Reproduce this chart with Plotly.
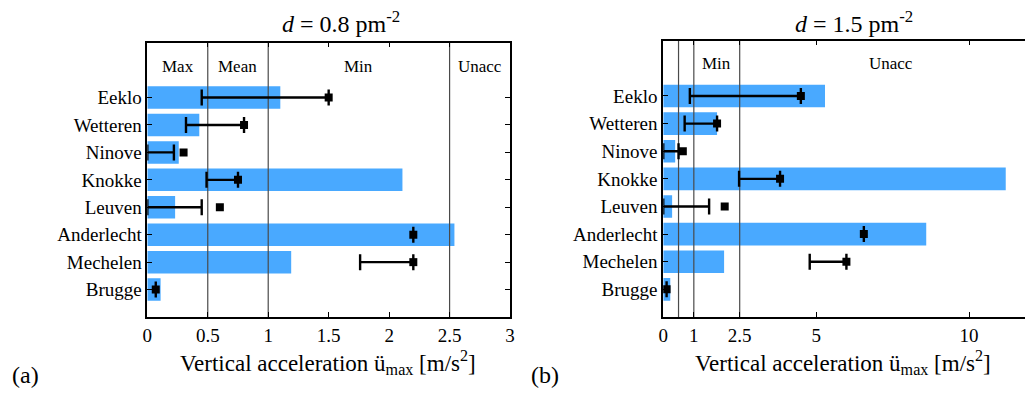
import plotly.graph_objects as go

cities = ["Eeklo", "Wetteren", "Ninove", "Knokke", "Leuven", "Anderlecht", "Mechelen", "Brugge"]
ypos = [8, 7, 6, 5, 4, 3, 2, 1]

# panel (a): d = 0.8 pm^-2
a_bar = [1.10, 0.43, 0.26, 2.11, 0.23, 2.54, 1.19, 0.11]
a_lo = [0.45, 0.32, 0.00, 0.49, 0.00, 2.20, 1.76, 0.07]
a_hi = [1.50, 0.80, 0.22, 0.75, 0.45, 2.20, 2.20, 0.07]
a_mark = [1.50, 0.80, 0.30, 0.75, 0.60, 2.20, 2.20, 0.07]
a_limits = [0.5, 1.0, 2.5]
a_bands = ["Max", "Mean", "Min", "Unacc"]
a_band_x = [0.25, 0.75, 1.75, 2.75]
a_ticks = [0, 0.5, 1, 1.5, 2, 2.5, 3]

# panel (b): d = 1.5 pm^-2
b_bar = [5.29, 1.76, 0.39, 11.2, 0.29, 8.60, 1.99, 0.23]
b_lo = [0.87, 0.70, 0.00, 2.48, 0.00, 6.56, 4.79, 0.11]
b_hi = [4.50, 1.76, 0.50, 3.82, 1.50, 6.56, 5.99, 0.11]
b_mark = [4.50, 1.76, 0.64, 3.82, 2.01, 6.56, 5.99, 0.11]
b_limits = [0.5, 1.0, 2.5]
b_bands = ["Min", "Unacc"]
b_band_x = [1.75, 7.45]
b_ticks = [0, 1, 2.5, 5, 10]

W, H = 1030, 396
FONT = "Liberation Serif"
BAR = "#49A9FF"

fig = go.Figure()

def add_panel(bar, lo, hi, mark, limits, xa, ya):
    fig.add_trace(go.Bar(x=bar, y=ypos, orientation="h", width=0.82,
                         marker=dict(color=BAR, line=dict(width=0)),
                         xaxis=xa, yaxis=ya, showlegend=False))
    for v in limits:
        fig.add_trace(go.Scatter(x=[v, v], y=[0, 10], mode="lines",
                                 line=dict(color="#4a4a4a", width=1.2),
                                 xaxis=xa, yaxis=ya, showlegend=False, hoverinfo="skip"))
    fig.add_trace(go.Scatter(x=hi, y=ypos, mode="markers",
                             marker=dict(size=1, color="rgba(0,0,0,0)"),
                             error_x=dict(type="data", symmetric=False,
                                          array=[0] * len(hi),
                                          arrayminus=[h - l for h, l in zip(hi, lo)],
                                          color="black", thickness=2.4, width=8),
                             xaxis=xa, yaxis=ya, showlegend=False))
    fig.add_trace(go.Scatter(x=mark, y=ypos, mode="markers",
                             marker=dict(symbol="square", size=8, color="black"),
                             xaxis=xa, yaxis=ya, showlegend=False))

add_panel(a_bar, a_lo, a_hi, a_mark, a_limits, "x", "y")
add_panel(b_bar, b_lo, b_hi, b_mark, b_limits, "x2", "y2")

def fx(px):
    return px / W

def fy(py):
    return 1 - py / H

common_x = dict(showline=True, linecolor="black", linewidth=1.5, ticks="inside",
                ticklen=5, tickcolor="black", showgrid=False, zeroline=False,
                tickfont=dict(family=FONT, size=19, color="black"))
common_y = dict(showline=True, linecolor="black", linewidth=1.5, ticks="inside",
                ticklen=5, tickcolor="black", showgrid=False, zeroline=False,
                range=[0, 10], tickvals=ypos, ticktext=cities,
                tickfont=dict(family=FONT, size=19, color="black"))

fig.update_layout(
    width=W, height=H, margin=dict(l=0, r=0, t=0, b=0),
    paper_bgcolor="white", plot_bgcolor="white", barmode="overlay",
    font=dict(family=FONT, color="black", size=19),
    xaxis=dict(common_x, domain=[fx(143.7), fx(510)], range=[0, 3],
               tickvals=a_ticks, ticktext=[str(t) for t in a_ticks], mirror="ticks", anchor="y"),
    yaxis=dict(common_y, domain=[fy(317), fy(42.7)], mirror="ticks", anchor="x"),
    xaxis2=dict(common_x, domain=[fx(664.7), 1.0], range=[0, 11.83],
                tickvals=b_ticks, ticktext=[str(t) for t in b_ticks], mirror="ticks", anchor="y2"),
    yaxis2=dict(common_y, domain=[fy(317), fy(40.7)], anchor="x2", linewidth=2),
)

ann = []
for t, x in zip(a_bands, a_band_x):
    ann.append(dict(x=x, y=9.15, xref="x", yref="y", text=t, showarrow=False,
                    font=dict(family=FONT, size=17, color="black")))
for t, x in zip(b_bands, b_band_x):
    ann.append(dict(x=x, y=9.18, xref="x2", yref="y2", text=t, showarrow=False,
                    font=dict(family=FONT, size=17, color="black")))

ann.append(dict(x=339, y=22, xref="paper", yref="paper",
                text="<i>d</i> = 0.8 pm<sup>-2</sup>", showarrow=False,
                font=dict(family=FONT, size=24, color="black")))
ann.append(dict(x=857, y=22, xref="paper", yref="paper",
                text="<i>d</i> = 1.5 pm<sup>-2</sup>", showarrow=False,
                font=dict(family=FONT, size=24, color="black")))
for cx in [326, 846]:
    ann.append(dict(x=cx, y=362, xref="paper", yref="paper",
                    text="Vertical acceleration ü<sub>max</sub> [m/s<sup>2</sup>]", showarrow=False,
                    font=dict(family=FONT, size=23, color="black")))
ann.append(dict(x=21, y=375, xref="paper", yref="paper", text="(a)", showarrow=False,
                font=dict(family=FONT, size=24, color="black")))
ann.append(dict(x=545, y=375, xref="paper", yref="paper", text="(b)", showarrow=False,
                font=dict(family=FONT, size=24, color="black")))

for a in ann:
    if a["xref"] == "paper":
        a["x"] = a["x"] / W
        a["y"] = 1 - a["y"] / H
        a["xanchor"] = "center"
        a["yanchor"] = "middle"

fig.update_layout(annotations=ann)
fig.write_html("out.html")
